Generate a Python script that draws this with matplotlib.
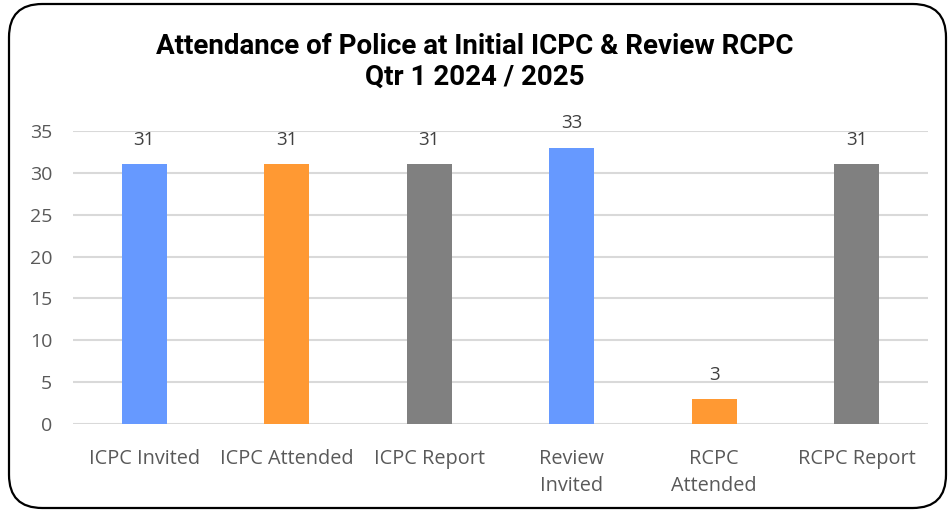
import matplotlib
matplotlib.use("Agg")
import matplotlib.pyplot as plt
from matplotlib.patches import FancyBboxPatch

categories = ["ICPC Invited", "ICPC Attended", "ICPC Report", "Review\nInvited", "RCPC\nAttended", "RCPC Report"]
values = [31, 31, 31, 33, 3, 31]
colors = ["#6699FF", "#FF9933", "#808080", "#6699FF", "#FF9933", "#808080"]
yticks = [0, 5, 10, 15, 20, 25, 30, 35]
title = "Attendance of Police at Initial ICPC & Review RCPC\nQtr 1 2024 / 2025"

fig = plt.figure(figsize=(9.49, 5.13), dpi=100)
W, H = 949, 513
ax = fig.add_axes([73 / W, 1 - 424 / H, (928 - 73) / W, (424 - 131) / H])

x = range(len(categories))
bars = ax.bar(x, values, width=0.316, color=colors, zorder=3)
for xi, v in zip(x, values):
    ax.annotate(str(v), (xi, v), xytext=(0, 11), textcoords="offset points",
                ha="center", va="bottom", fontsize=13.5, color="#404040", family="Open Sans")

ax.set_xlim(-0.5, len(categories) - 0.5)
ax.set_ylim(0, 35)
ax.set_yticks(yticks)
ax.set_xticks(list(x))
ax.set_xticklabels(categories, family="Open Sans", fontsize=14.3, color="#595959", linespacing=1.45)
ax.set_yticklabels([str(t) for t in yticks], family="Open Sans", fontsize=14, color="#595959")
ax.tick_params(axis="both", length=0)
ax.tick_params(axis="x", pad=18)
ax.tick_params(axis="y", pad=15)
ax.grid(axis="y", color="#D9D9D9", linewidth=1.5, zorder=0)
for s in ax.spines.values():
    s.set_visible(False)

fig.text(0.5, 1 - 62 / H, title, ha="center", va="center", fontsize=20, fontweight="bold",
         family=["Roboto", "DejaVu Sans"], color="black", linespacing=1.2)

box = FancyBboxPatch((9 / W, 5 / H), (946 - 9) / W, (509 - 5) / H,
                     boxstyle="round,pad=0,rounding_size=0.035", transform=fig.transFigure,
                     fill=False, edgecolor="black", linewidth=1.6, mutation_aspect=W / H)
fig.patches.append(box)

fig.savefig("out.png", dpi=100)
